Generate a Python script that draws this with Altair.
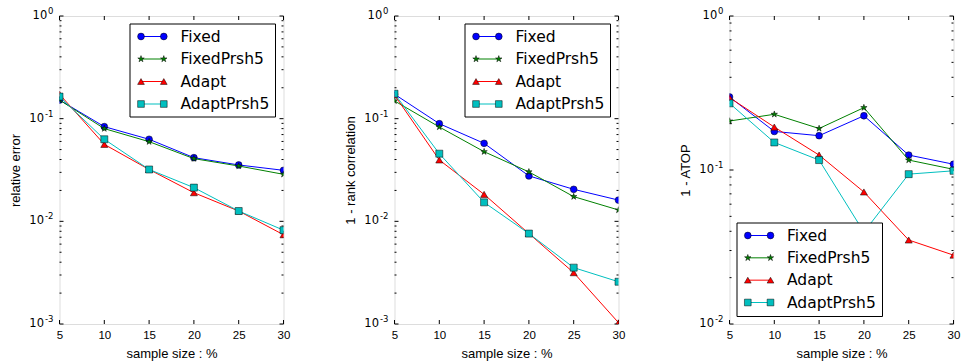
import altair as alt
import pandas as pd

x_vals = [5, 10, 15, 20, 25, 30]
series_names = ["Fixed", "FixedPrsh5", "Adapt", "AdaptPrsh5"]

# panel 1: relative error
err_fixed = [0.152, 0.0836, 0.063, 0.0417, 0.0354, 0.0314]
err_fixedprsh5 = [0.152, 0.080, 0.0597, 0.0408, 0.0346, 0.0287]
err_adapt = [0.173, 0.0562, 0.032, 0.019, 0.0126, 0.0074]
err_adaptprsh5 = [0.164, 0.063, 0.032, 0.0213, 0.0126, 0.0082]

# panel 2: 1 - rank correlation
rank_fixed = [0.173, 0.0894, 0.0575, 0.0277, 0.0205, 0.0161]
rank_fixedprsh5 = [0.149, 0.083, 0.0477, 0.0303, 0.0174, 0.0129]
rank_adapt = [0.170, 0.0396, 0.0183, 0.0076, 0.00316, 0.00103]
rank_adaptprsh5 = [0.175, 0.0456, 0.0153, 0.0076, 0.00354, 0.00258]

# panel 3: 1 - ATOP
atop_fixed = [0.298, 0.178, 0.167, 0.225, 0.125, 0.109]
atop_fixedprsh5 = [0.208, 0.230, 0.186, 0.254, 0.116, 0.101]
atop_adapt = [0.295, 0.190, 0.125, 0.072, 0.0351, 0.028]
atop_adaptprsh5 = [0.271, 0.151, 0.116, 0.0395, 0.094, 0.0988]

STAR = ("M0,-1L0.2245,-0.309L0.951,-0.309L0.363,0.118L0.588,0.809L0,0.382"
        "L-0.588,0.809L-0.363,0.118L-0.951,-0.309L-0.2245,-0.309Z")
colors = ["#0000ff", "#008000", "#ff0000", "#00bfbf"]
shapes = ["circle", STAR, "triangle-up", "square"]
sizes = [46, 45, 50, 49]

W, H = 224, 308
FONT = "DejaVu Sans"


def panel(series_values, ytitle, ymin_exp, box, rows, lx, tx):
    recs = []
    for name, vals in zip(series_names, series_values):
        for xv, yv in zip(x_vals, vals):
            recs.append({"x": xv, "y": yv, "series": name})
    df = pd.DataFrame(recs)

    xscale = alt.Scale(domain=[5, 30], nice=False, zero=False)
    yscale = alt.Scale(type="log", domain=[10 ** ymin_exp, 1], nice=False)
    xaxis = alt.Axis(values=x_vals, ticks=False, domain=False, grid=False,
                     labelFontSize=11.5, labelPadding=5, titleFontSize=13,
                     titleFontWeight="normal", titleY=29,
                     titleBaseline="middle", labelFlush=False)
    yaxis = alt.Axis(values=[10 ** k for k in range(ymin_exp, 1)], ticks=False,
                     domain=False, grid=False, labels=False, titleFontSize=13,
                     titleFontWeight="normal", titleX=-44,
                     titleBaseline="middle")

    def X(f):
        return alt.X(f, type="quantitative", scale=xscale, axis=xaxis,
                     title="sample size : %")

    def Y(f):
        return alt.Y(f, type="quantitative", scale=yscale, axis=yaxis,
                     title=ytitle)

    major = pd.DataFrame({"x": x_vals})
    ymaj = pd.DataFrame({"y": [10 ** k for k in range(ymin_exp, 1)],
                         "e": [str(k) for k in range(ymin_exp, 1)]})
    ymin_ = pd.DataFrame({"y": [m * 10 ** k for k in range(ymin_exp, 0)
                                for m in range(2, 10)]})

    layers = [
        alt.Chart(ymaj).mark_rule(color="black").encode(
            y=Y("y"), x=alt.value(0), x2=alt.value(4)),
        alt.Chart(ymaj).mark_rule(color="black").encode(
            y=Y("y"), x=alt.value(W - 4), x2=alt.value(W)),
        alt.Chart(ymin_).mark_rule(color="black").encode(
            y=Y("y"), x=alt.value(0), x2=alt.value(2)),
        alt.Chart(ymin_).mark_rule(color="black").encode(
            y=Y("y"), x=alt.value(W - 2), x2=alt.value(W)),
        alt.Chart(major).mark_rule(color="black").encode(
            x=X("x"), y=alt.value(H - 4), y2=alt.value(H)),
        alt.Chart(major).mark_rule(color="black").encode(
            x=X("x"), y=alt.value(0), y2=alt.value(4)),
        # y tick labels: base "10" and raised exponent
        alt.Chart(ymaj).transform_filter(alt.datum.e == "0").mark_text(
            align="right", baseline="middle", fontSize=11.5, font=FONT,
            color="black").encode(y=Y("y"), x=alt.value(-12.3),
                                  text=alt.value("10")),
        alt.Chart(ymaj).transform_filter(alt.datum.e != "0").mark_text(
            align="right", baseline="middle", fontSize=11.5, font=FONT,
            color="black").encode(y=Y("y"), x=alt.value(-15.5),
                                  text=alt.value("10")),
        alt.Chart(ymaj).mark_text(
            align="right", baseline="middle", fontSize=8.5, font=FONT,
            color="black", dy=-5).encode(y=Y("y"), x=alt.value(-6),
                                          text="e:N"),
    ]
    for name, c, sh, sz in zip(series_names, colors, shapes, sizes):
        base = alt.Chart(df).transform_filter(alt.datum.series == name)
        layers.append(base.mark_line(color=c, strokeWidth=1, clip=True).encode(
            x=X("x"), y=Y("y")))
        layers.append(base.mark_point(filled=True, fill=c, stroke="black",
                                      strokeWidth=0.5, shape=sh, size=sz,
                                      opacity=1, clip=True).encode(
            x=X("x"), y=Y("y")))
    data_layer = alt.layer(*layers)

    leg = pd.DataFrame({"series": series_names, "row": [0, 1, 2, 3]})
    ly = alt.Y("row:Q", scale=alt.Scale(domain=[0, 3], range=list(rows)),
               axis=None)
    cscale = alt.Scale(domain=series_names, range=colors)
    sscale = alt.Scale(domain=series_names, range=shapes)
    zscale = alt.Scale(domain=series_names, range=sizes)
    box_layer = alt.Chart(alt.Data(values=[{"k": 1}])).mark_rect(
        fill="white", stroke="black", strokeWidth=1).encode(
        x=alt.value(box[0]), x2=alt.value(box[1]),
        y=alt.value(box[2]), y2=alt.value(box[3]))
    leg_rule = alt.Chart(leg).mark_rule(strokeWidth=1).encode(
        x=alt.value(lx[0]), x2=alt.value(lx[1]), y=ly,
        color=alt.Color("series:N", scale=cscale, legend=None))
    leg_pts = [
        alt.Chart(leg).mark_point(filled=True, stroke="black", strokeWidth=0.5,
                                  opacity=1).encode(
            x=alt.value(px), y=ly,
            fill=alt.Fill("series:N", scale=cscale, legend=None),
            shape=alt.Shape("series:N", scale=sscale, legend=None),
            size=alt.Size("series:N", scale=zscale, legend=None))
        for px in lx
    ]
    leg_text = alt.Chart(leg).mark_text(
        align="left", baseline="middle", fontSize=15.5, font=FONT,
        color="black").encode(x=alt.value(tx), y=ly, text="series:N")
    legend_layer = alt.layer(box_layer, leg_rule, *leg_pts, leg_text)

    return alt.layer(data_layer, legend_layer).resolve_scale(
        y="independent").properties(width=W, height=H)


p1 = panel([err_fixed, err_fixedprsh5, err_adapt, err_adaptprsh5],
           "relative error", -3, (70.5, 216, 8, 101), (20.5, 88),
           (81.5, 104.3), 121)
p2 = panel([rank_fixed, rank_fixedprsh5, rank_adapt, rank_adaptprsh5],
           "1 - rank correlation", -3, (70.5, 216, 8, 101), (20.5, 88),
           (81.5, 104.3), 121)
p3 = panel([atop_fixed, atop_fixedprsh5, atop_adapt, atop_adaptprsh5],
           "1 - ATOP", -2, (7.5, 153, 207, 300.5), (219.5, 286.5),
           (18.3, 41), 57.5)

chart = alt.hconcat(p1, p2, p3, spacing=111, bounds="flush").properties(
    padding={"left": 8.5, "top": 6, "right": 0, "bottom": 0}
).configure_view(stroke="black", strokeWidth=1).configure_axis(
    labelFont=FONT, titleFont=FONT, labelColor="black", titleColor="black",
    titleFontWeight="normal"
).configure(background="white")

chart.save("out.html", embed_options={"renderer": "svg", "actions": False})
